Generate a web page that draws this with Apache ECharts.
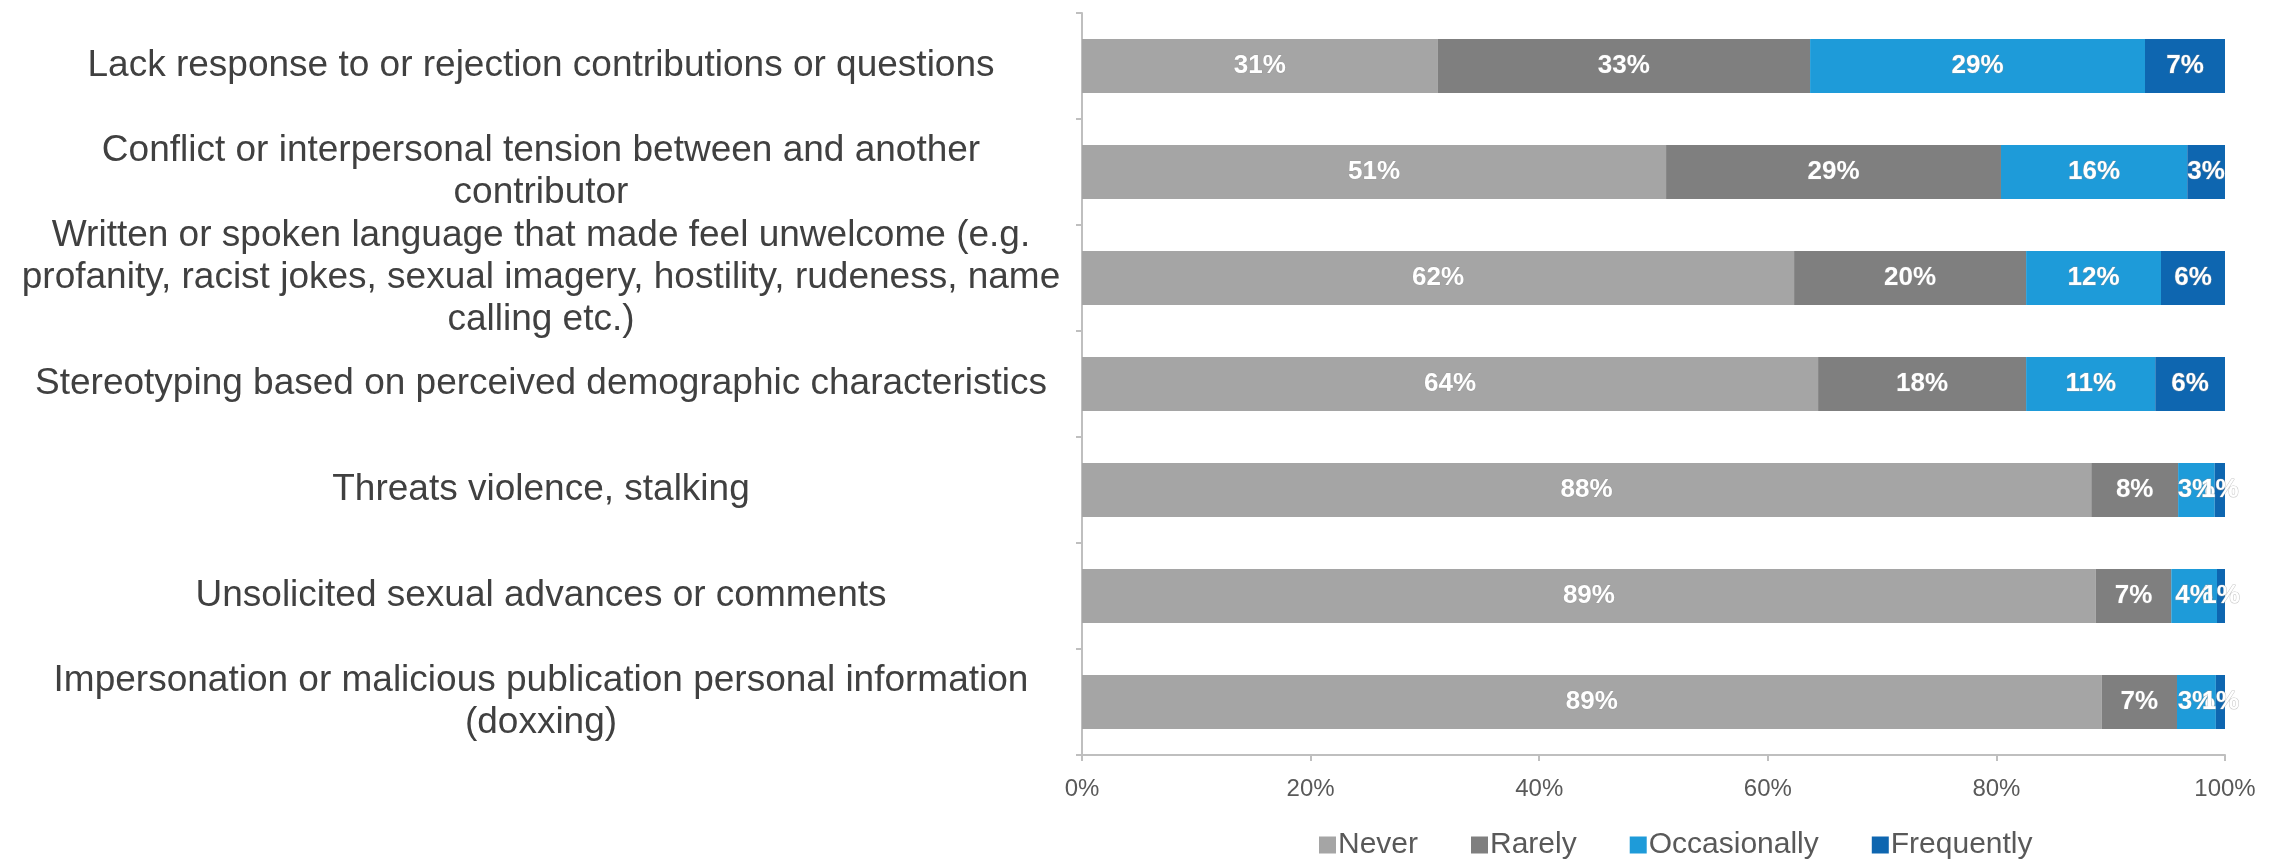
<!DOCTYPE html>
<html>
<head>
<meta charset="utf-8">
<title>Frequency of negative experiences</title>
<script src="https://cdn.jsdelivr.net/npm/echarts@6/dist/echarts.min.js"></script>
<style>
  html, body { margin: 0; padding: 0; background: #ffffff; }
  #chart { width: 2277px; height: 859px; }
</style>
</head>
<body>
<div id="chart"></div>
<script>
// Behaviour categories, top to bottom
const categories = [
  'Lack response to or rejection contributions or questions',
  'Conflict or interpersonal tension between and another\ncontributor',
  'Written or spoken language that made feel unwelcome (e.g.\nprofanity, racist jokes, sexual imagery, hostility, rudeness, name\ncalling etc.)',
  'Stereotyping based on perceived demographic characteristics',
  'Threats violence, stalking',
  'Unsolicited sexual advances or comments',
  'Impersonation or malicious publication personal information\n(doxxing)'
];

// Share of respondents (%) per frequency level
const never        = [31.1, 51.1, 62.3, 64.4, 88.3, 88.7, 89.2];
const rarely       = [32.6, 29.3, 20.3, 18.2, 7.6, 6.6, 6.6];
const occasionally = [29.3, 16.3, 11.8, 11.3, 3.2, 4.0, 3.4];
const frequently   = [7.0, 3.3, 5.6, 6.1, 0.9, 0.7, 0.8];

const seriesNames = ['Never', 'Rarely', 'Occasionally', 'Frequently'];
const seriesData = [never, rarely, occasionally, frequently];
const seriesColors = ['#a5a5a5', '#7f7f7f', '#1e9bd9', '#0e66b0'];

// x-axis ticks
const tickMin = 0, tickMax = 100, tickStep = 20;

const chart = echarts.init(document.getElementById('chart'), null, { renderer: 'canvas' });

const series = seriesNames.map((name, i) => ({
  name: name,
  type: 'bar',
  stack: 'total',
  barWidth: '51%',
  data: seriesData[i],
  itemStyle: { color: seriesColors[i] },
  label: {
    show: true,
    position: 'inside',
    formatter: p => Math.round(p.value) + '%',
    color: '#ffffff',
    fontFamily: 'Liberation Sans Narrow, Liberation Sans, Arial, sans-serif',
    fontWeight: 'bold',
    fontSize: 26,
    textBorderColor: 'rgba(150,150,150,0.55)',
    textBorderWidth: 1
  },
  emphasis: { disabled: true }
}));

chart.setOption({
  animation: false,
  backgroundColor: '#ffffff',
  textStyle: { fontFamily: 'Liberation Sans, Arial, sans-serif' },
  grid: { left: 1082, right: 52, top: 13, bottom: 104, containLabel: false },
  legend: {
    data: seriesNames,
    top: 825,
    left: 1314,
    icon: 'rect',
    itemWidth: 17,
    itemHeight: 17,
    itemGap: 53,
    textStyle: { fontSize: 30, color: '#595959', padding: [0, 0, 0, -3] }
  },
  xAxis: {
    type: 'value',
    min: tickMin,
    max: tickMax,
    interval: tickStep,
    axisLine: { show: true, lineStyle: { color: '#bfbfbf', width: 2 } },
    axisTick: { show: true, length: 6, lineStyle: { color: '#bfbfbf', width: 2 } },
    splitLine: { show: false },
    axisLabel: {
      formatter: '{value}%',
      fontSize: 24,
      color: '#595959',
      margin: 22
    }
  },
  yAxis: {
    type: 'category',
    data: categories,
    inverse: true,
    axisLine: { show: true, lineStyle: { color: '#bfbfbf', width: 2 } },
    axisTick: { show: true, length: 6, lineStyle: { color: '#bfbfbf', width: 2 } },
    axisLabel: {
      align: 'center',
      margin: 541,
      fontSize: 37,
      lineHeight: 42,
      color: '#404040',
      padding: [6, 0, 0, 0]
    }
  },
  series: series
});
</script>
</body>
</html>
